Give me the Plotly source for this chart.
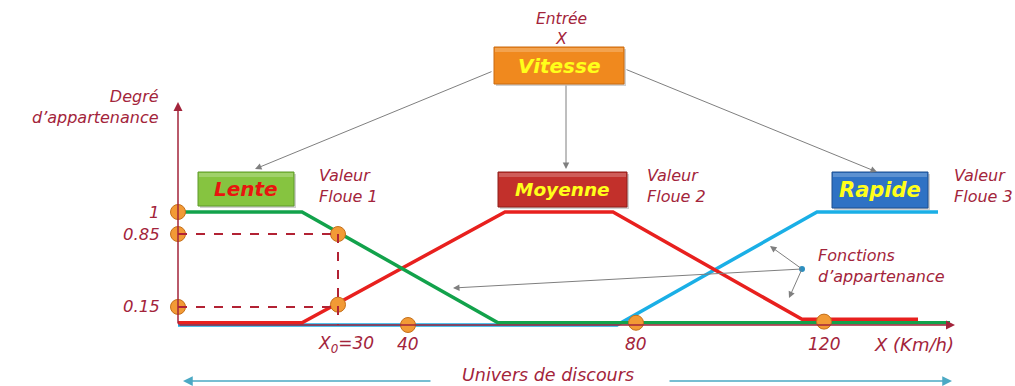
import plotly.graph_objects as go

# ---------------- data (diagram units: x = drawing abscissa, y = membership degree) -------------
lente_x = [178, 302, 498, 950]
lente_y = [1.0, 1.0, 0.02, 0.02]
moy_x = [178, 302, 505, 613, 802, 918]
moy_y = [0.02, 0.02, 1.0, 1.0, 0.05, 0.05]
rap_x = [178, 617, 817, 938]
rap_y = [0.0, 0.0, 1.0, 1.0]

deg_labels = ["1", "0.85", "0.15"]
deg_pos = [1.0, 0.805, 0.16]
x0_pos = 338
x0_hits = [0.805, 0.18]
tick_labels = ["X<sub>0</sub>=30", "40", "80", "120"]
tick_pos = [338, 408, 636, 824]
tick_dots_y = [0.0, 0.02, 0.03]

AX_O = 178
AX_END = 955
TXT = "#A3243B"

def ym(p):
    return (325 - p) / 113.0

fig = go.Figure()

ann = []
def arrow(x, y, ax, ay, color="#7f7f7f", w=1, head=2, size=1.3):
    ann.append(dict(x=x, y=y, ax=ax, ay=ay, xref="x", yref="y", axref="x", ayref="y",
                    text="", showarrow=True, arrowhead=head, arrowsize=size,
                    arrowwidth=w, arrowcolor=color))

# axes with arrow heads
arrow(AX_O, ym(102), AX_O, 0, color="#A3243B", w=1.5, head=2, size=1.2)
arrow(AX_END, 0, AX_O, 0, color="#A3243B", w=1.5, head=2, size=1.2)

# dashed guide lines
shapes = []
GUIDE = dict(color="#B22234", width=2, dash="dash")
for yv in (deg_pos[1], deg_pos[2]):
    shapes.append(dict(type="line", x0=AX_O, x1=x0_pos, y0=yv, y1=yv, line=GUIDE))
shapes.append(dict(type="line", x0=x0_pos, x1=x0_pos, y0=x0_hits[0], y1=0, line=GUIDE))

# membership functions
fig.add_trace(go.Scatter(x=rap_x, y=rap_y, mode="lines", line=dict(color="#1AAFE6", width=3.5),
                         hoverinfo="skip", showlegend=False))
fig.add_trace(go.Scatter(x=moy_x, y=moy_y, mode="lines", line=dict(color="#E8201E", width=3.5),
                         hoverinfo="skip", showlegend=False))
fig.add_trace(go.Scatter(x=lente_x, y=lente_y, mode="lines", line=dict(color="#12A24B", width=3.5),
                         hoverinfo="skip", showlegend=False))

# orange dots
dot_x = [AX_O] * 3 + [x0_pos] * 2 + tick_pos[1:]
dot_y = deg_pos + x0_hits + tick_dots_y
fig.add_trace(go.Scatter(x=dot_x, y=dot_y, mode="markers",
                         marker=dict(size=15, color="#F29A35", line=dict(color="#C5701A", width=1)),
                         hoverinfo="skip", showlegend=False))

FONT = "DejaVu Sans"
def txt(x, p, s, size=16, color=TXT, xanchor="center", align="center", bold=False, italic=True):
    ann.append(dict(x=x, y=ym(p), xref="x", yref="y", text=("<b>%s</b>" % s) if bold else s,
                    showarrow=False, xanchor=xanchor, yanchor="middle", align=align,
                    font=dict(family=FONT, size=size, color=color,
                              style="italic" if italic else "normal")))

for lab, yv in zip(deg_labels, deg_pos):
    txt(162, 325 - yv * 113, lab, xanchor="right", size=16.5)
for lab, xv in zip(tick_labels, tick_pos):
    txt(xv + (8 if "X" in lab else 0), 344, lab, size=17)
txt(914, 344, "X (Km/h)", size=18)

txt(161, 107, "Degré<br>d’appartenance", xanchor="right", align="right")
txt(561, 29, "Entrée<br>X", size=15.5)
txt(317, 186, "Valeur<br>Floue 1", xanchor="left", align="left")
txt(645, 186, "Valeur<br>Floue 2", xanchor="left", align="left")
txt(952, 186, "Valeur<br>Floue 3", xanchor="left", align="left")
txt(816, 266, "Fonctions<br>d’appartenance", xanchor="left", align="left")
txt(548, 375, "Univers de discours", size=17.5)

# boxes
boxes = [
    ("Vitesse", 494, 624, 47, 84, "#F0891E", "#C96A10", "#FFFF1A", 20),
    ("Lente", 198, 294, 172, 206, "#86C440", "#5E9A2A", "#E8150F", 20),
    ("Moyenne", 498, 627, 172, 207, "#C2302B", "#8E1F1B", "#FFFF1A", 18.5),
    ("Rapide", 832, 928, 172, 208, "#2F72C4", "#1F4F8E", "#FFFF1A", 21),
]
for name, x0, x1, p0, p1, fill, edge, tc, fs in boxes:
    shapes.append(dict(type="rect", x0=x0 + 2, x1=x1 + 2, y0=ym(p1 + 2), y1=ym(p0 + 2),
                       fillcolor="rgba(0,0,0,0.18)", line=dict(width=0), layer="above"))
    shapes.append(dict(type="rect", x0=x0, x1=x1, y0=ym(p1), y1=ym(p0),
                       fillcolor=fill, line=dict(color=edge, width=1), layer="above"))
    shapes.append(dict(type="rect", x0=x0 + 1, x1=x1 - 1, y0=ym(p0 + 5), y1=ym(p0 + 1),
                       fillcolor="rgba(255,255,255,0.22)", line=dict(width=0), layer="above"))
    txt((x0 + x1) / 2, (p0 + p1) / 2, name, size=fs, color=tc, bold=True)

# grey connector arrows
arrow(255, ym(169), 493, ym(71))
arrow(566, ym(169), 566, ym(84))
arrow(877, ym(172), 625, ym(69))
# fonctions d'appartenance pointer
fig.add_trace(go.Scatter(x=[802], y=[ym(269)], mode="markers",
                         marker=dict(size=6, color="#2C8FC0"), hoverinfo="skip", showlegend=False))
arrow(770, ym(246), 802, ym(269))
arrow(789, ym(298), 802, ym(269))
arrow(453, ym(288), 802, ym(269))

# univers de discours arrows
arrow(183, ym(381), 432, ym(381), color="#4BA9C4", w=1.5, head=2, size=1.3)
arrow(952, ym(381), 668, ym(381), color="#4BA9C4", w=1.5, head=2, size=1.3)

fig.update_layout(
    width=1015, height=386, margin=dict(l=0, r=0, t=0, b=0),
    paper_bgcolor="white", plot_bgcolor="white",
    xaxis=dict(range=[0, 1015], visible=False, fixedrange=True),
    yaxis=dict(range=[ym(386), ym(0)], visible=False, fixedrange=True),
    shapes=shapes, annotations=ann, showlegend=False,
)
fig.write_html("out.html", config={"displayModeBar": False},
               post_script="document.body.style.margin='0';")
